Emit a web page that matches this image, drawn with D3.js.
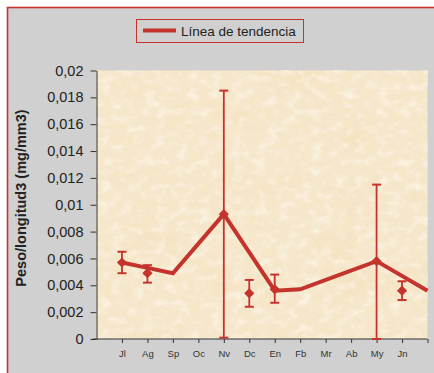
<!DOCTYPE html>
<html>
<head>
<meta charset="utf-8">
<script src="https://cdn.jsdelivr.net/npm/d3@7"></script>
<style>
  html, body { margin: 0; padding: 0; background: #ffffff; }
  svg { display: block; font-family: "Liberation Sans", Arial, sans-serif; }
</style>
</head>
<body>
<svg id="chart" width="434" height="373"></svg>
<script>
// Month labels on the x axis (July to June)
const months = ["Jl", "Ag", "Sp", "Oc", "Nv", "Dc", "En", "Fb", "Mr", "Ab", "My", "Jn"];

// Monthly means (mg/mm3); null where no sample was taken
const meanValues = [0.0057, 0.0049, null, null, 0.0093, 0.0034, 0.0037, null, null, null, 0.0058, 0.0036];
// Upper and lower limits of the error bars
const upperValues = [0.0065, 0.0055, null, null, 0.0185, 0.0044, 0.0048, null, null, null, 0.0115, 0.0043];
const lowerValues = [0.0049, 0.0042, null, null, 0.0001, 0.0024, 0.0027, null, null, null, 0.0000, 0.0029];

// Trend line vertices: month position (1 = Jl ... 13 = following Jl) and value
const trendPositions = [1, 2, 3, 5, 7, 8, 11, 13];
const trendValues = [0.0057, 0.0053, 0.0049, 0.0093, 0.0036, 0.0037, 0.0058, 0.0036];

// Y axis ticks
const yTicks = [0, 0.002, 0.004, 0.006, 0.008, 0.01, 0.012, 0.014, 0.016, 0.018, 0.02];

const legendLabel = "Línea de tendencia";
const yLabel = "Peso/longitud3 (mg/mm3)";

const RED = "#c4342c";
const svg = d3.select("#chart");
const W = 434, H = 373;
const plot = { left: 96.5, right: 427.5, top: 70.5, bottom: 339 };

const x = d3.scaleLinear().domain([0, 13]).range([plot.left, plot.right]);
const y = d3.scaleLinear().domain([0, 0.02]).range([plot.bottom, plot.top]);

const locale = d3.formatLocale({ decimal: ",", thousands: ".", grouping: [3], currency: ["", ""] });
const fmt = locale.format("~g");

// Parchment texture for the plot area
const defs = svg.append("defs");
const paper = defs.append("filter").attr("id", "paper")
  .attr("x", 0).attr("y", 0).attr("width", 1).attr("height", 1);
paper.append("feTurbulence").attr("type", "fractalNoise")
  .attr("baseFrequency", "0.016 0.03").attr("numOctaves", 4).attr("seed", 7).attr("result", "noise");
paper.append("feColorMatrix").attr("in", "noise").attr("type", "matrix")
  .attr("values", "0 0 0 0 0.9  0 0 0 0 0.73  0 0 0 0 0.48  1.5 0 0 0 -0.7")
  .attr("result", "tint");
paper.append("feComposite").attr("in", "tint").attr("in2", "SourceGraphic").attr("operator", "over");

const grain = defs.append("filter").attr("id", "grain")
  .attr("x", 0).attr("y", 0).attr("width", 1).attr("height", 1);
grain.append("feTurbulence").attr("type", "fractalNoise")
  .attr("baseFrequency", "0.09 0.12").attr("numOctaves", 3).attr("seed", 2).attr("result", "n");
grain.append("feColorMatrix").attr("in", "n").attr("type", "matrix")
  .attr("values", "0 0 0 0 1  0 0 0 0 0.98  0 0 0 0 0.93  2.4 0 0 0 -1.1");

// Outer frame
svg.append("rect").attr("x", 7.5).attr("y", 7.5).attr("width", W + 10).attr("height", H + 10)
  .attr("fill", "#d0d0d0").attr("stroke", RED).attr("stroke-width", 1.6);

// Plot area
svg.append("rect").attr("x", plot.left).attr("y", plot.top)
  .attr("width", plot.right - plot.left).attr("height", plot.bottom - plot.top)
  .attr("fill", "#f6e7cb").attr("filter", "url(#paper)");
svg.append("rect").attr("x", plot.left).attr("y", plot.top)
  .attr("width", plot.right - plot.left).attr("height", plot.bottom - plot.top)
  .attr("fill", "#ffffff").attr("filter", "url(#grain)").attr("opacity", 0.55);

// Y axis
const yAxis = svg.append("g").attr("transform", `translate(${plot.left},0)`)
  .call(d3.axisLeft(y).tickValues(yTicks).tickFormat(fmt).tickSize(6).tickSizeOuter(0).tickPadding(7));
yAxis.select(".domain").attr("stroke", "#333");
yAxis.selectAll(".tick line").attr("stroke", "#333");
yAxis.selectAll(".tick text").attr("fill", "#222").style("font-size", "14.5px")
  .style("font-family", "'Liberation Sans', Arial, sans-serif");

// X axis
const xTickPos = d3.range(1, 14);
const xAxis = svg.append("g").attr("transform", `translate(0,${plot.bottom})`)
  .call(d3.axisBottom(x).tickValues(xTickPos).tickFormat(d => months[d - 1] || "")
    .tickSize(4).tickSizeOuter(0).tickPadding(7));
xAxis.select(".domain").attr("stroke", "#333").attr("d", `M${plot.left - 4},0H${plot.right}`);
xAxis.selectAll(".tick line").attr("stroke", "#333");
xAxis.selectAll(".tick text").attr("fill", "#333").style("font-size", "9.5px")
  .style("font-family", "'Liberation Sans', Arial, sans-serif");

// Trend line
const trend = trendPositions.map((p, i) => ({ p, v: trendValues[i] }));
svg.append("path").datum(trend)
  .attr("fill", "none").attr("stroke", RED).attr("stroke-width", 4).attr("stroke-linejoin", "miter")
  .attr("d", d3.line().x(d => x(d.p)).y(d => y(d.v)));

// Means with error bars
const samples = months.map((m, i) => ({ p: i + 1, mean: meanValues[i], hi: upperValues[i], lo: lowerValues[i] }))
  .filter(d => d.mean !== null);
const g = svg.append("g");
const cap = 4.5;
samples.forEach(d => {
  const cx = x(d.p);
  g.append("line").attr("x1", cx).attr("x2", cx).attr("y1", y(d.hi)).attr("y2", y(d.lo))
    .attr("stroke", RED).attr("stroke-width", 1.8);
  [d.hi, d.lo].forEach(v => {
    g.append("line").attr("x1", cx - cap).attr("x2", cx + cap).attr("y1", y(v)).attr("y2", y(v))
      .attr("stroke", RED).attr("stroke-width", 2);
  });
  g.append("path").attr("d", d3.symbol(d3.symbolSquare, 52)())
    .attr("transform", `translate(${cx},${y(d.mean)}) rotate(45)`)
    .attr("fill", RED);
});

// Legend
const lg = svg.append("g");
lg.append("rect").attr("x", 136.5).attr("y", 19.5).attr("width", 167).attr("height", 23)
  .attr("fill", "none").attr("stroke", RED).attr("stroke-width", 1);
lg.append("line").attr("x1", 143).attr("x2", 176).attr("y1", 30.5).attr("y2", 30.5)
  .attr("stroke", RED).attr("stroke-width", 4);
lg.append("text").attr("x", 181).attr("y", 35.5).attr("fill", "#222")
  .style("font-size", "13.5px").text(legendLabel);

// Y axis title
svg.append("text")
  .attr("transform", `translate(26,198) rotate(-90)`)
  .attr("text-anchor", "middle").attr("fill", "#222")
  .style("font-size", "14.5px").style("font-weight", "bold")
  .text(yLabel);
</script>
</body>
</html>
